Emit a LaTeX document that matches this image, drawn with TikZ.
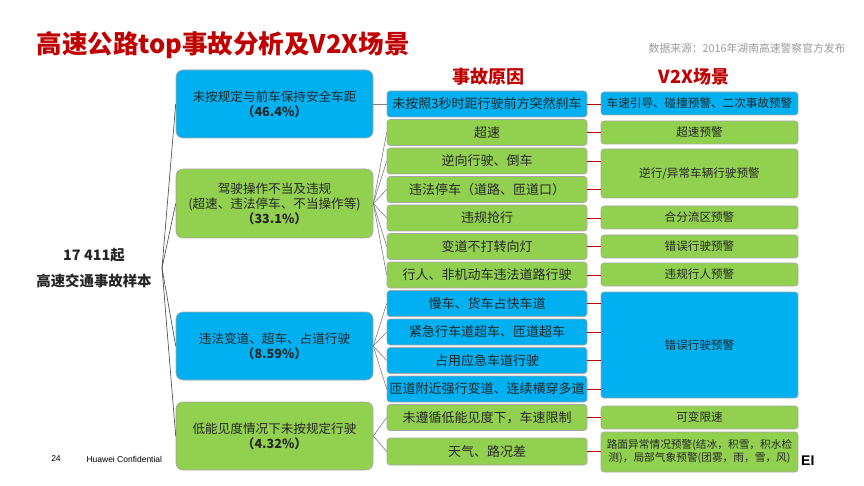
\documentclass[tikz,border=0pt]{standalone}
\usepackage{fontspec}
\setmainfont{Noto Sans CJK SC}
\setsansfont{Liberation Sans}
\usetikzlibrary{positioning}
\definecolor{ttl}{HTML}{C00000}
\definecolor{sky}{HTML}{00B0F0}
\definecolor{leaf}{HTML}{92D050}
\definecolor{ink}{HTML}{262626}
\definecolor{rim}{HTML}{A6A6A6}
\definecolor{soft}{HTML}{7F7F7F}
\definecolor{note}{HTML}{9A9A9A}

\begin{document}
\begin{tikzpicture}[x=1pt,y=-1pt, text=ink,
  lbox/.style={draw=rim, line width=0.6pt, rounded corners=7pt, minimum width=197pt,
               minimum height=68pt, align=center, inner sep=0pt,
               font=\fontsize{12.6}{15}\selectfont},
  cbox/.style={draw=rim, line width=0.6pt, rounded corners=3pt, minimum width=200pt,
               minimum height=26pt, inner sep=0pt, font=\fontsize{13}{15}\selectfont},
  vbox/.style={draw=rim, line width=0.6pt, rounded corners=3pt, minimum width=197pt,
               minimum height=23pt, align=center, inner sep=0pt,
               font=\fontsize{11.6}{14}\selectfont},
  trunk/.style={draw=black!75, line width=0.6pt},
  twig/.style={draw=soft, line width=0.6pt},
  link/.style={draw=ttl, line width=0.8pt},
  head/.style={text=ttl, font=\fontsize{18}{20}\selectfont\bfseries}]

\path[use as bounding box] (0,0) rectangle (864,486);

% ------------------------------------------------------------------ header
\node[anchor=west, text=ttl, font=\fontsize{25.5}{28}\selectfont\bfseries] (title) at (33,45)
  {高速公路top事故分析及V2X场景};
\node[anchor=east, text=note, font=\fontsize{10.8}{12}\selectfont] (src) at (849,48)
  {数据来源：2016年湖南高速警察官方发布};
\node[head] (hcause) at (488,77) {事故原因};
\node[head] (hv2x) at (694,77) {V2X场景};

% ------------------------------------------------------------------ root
\node[align=center, font=\fontsize{14.4}{26}\selectfont\bfseries] (root) at (94,268)
  {17 411起\\高速交通事故样本};
\coordinate (hub) at (162,268);

% ------------------------------------------------------------------ causes, level 1
\node[lbox, fill=sky] (l1) at (274.5,104) {未按规定与前车保持安全车距\\\textbf{（46.4\%）}};
\node[lbox, fill=leaf, minimum height=69pt] (l2) at (274.5,203.5)
  {驾驶操作不当及违规\\(超速、违法停车、不当操作等)\\\textbf{（33.1\%）}};
\node[lbox, fill=sky] (l3) at (274.5,346) {违法变道、超车、占道行驶\\\textbf{（8.59\%）}};
\node[lbox, fill=leaf] (l4) at (274.5,436) {低能见度情况下未按规定行驶\\\textbf{（4.32\%）}};

% ------------------------------------------------------------------ causes, level 2
\node[cbox, fill=sky]  (c1)  at (487,104)   {未按照3秒时距行驶前方突然刹车};
\node[cbox, fill=leaf] (c2)  at (487,132.5) {超速};
\node[cbox, fill=leaf] (c3)  at (487,161)   {逆向行驶、倒车};
\node[cbox, fill=leaf] (c4)  at (487,189.5) {违法停车（道路、匝道口）};
\node[cbox, fill=leaf] (c5)  at (487,218)   {违规抢行};
\node[cbox, fill=leaf] (c6)  at (487,246.5) {变道不打转向灯};
\node[cbox, fill=leaf] (c7)  at (487,275)   {行人、非机动车违法道路行驶};
\node[cbox, fill=sky]  (c8)  at (487,303.5) {慢车、货车占快车道};
\node[cbox, fill=sky]  (c9)  at (487,332)   {紧急行车道超车、匝道超车};
\node[cbox, fill=sky]  (c10) at (487,360.5) {占用应急车道行驶};
\node[cbox, fill=sky]  (c11) at (487,389)   {匝道附近强行变道、连续横穿多道};
\node[cbox, fill=leaf] (c12) at (487,417.5) {未遵循低能见度下，车速限制};
\node[cbox, fill=leaf, minimum height=27pt] (c13) at (487,451.5) {天气、路况差};

% ------------------------------------------------------------------ V2X scenes
\node[vbox, fill=sky]  (v1) at (699.5,103.5) {车速引导、碰撞预警、二次事故预警};
\node[vbox, fill=leaf] (v2) at (699.5,132.5) {超速预警};
\node[vbox, fill=leaf, minimum height=49pt] (v3) at (699.5,173.5) {逆行/异常车辆行驶预警};
\node[vbox, fill=leaf] (v4) at (699.5,217.5) {合分流区预警};
\node[vbox, fill=leaf] (v5) at (699.5,246.5) {错误行驶预警};
\node[vbox, fill=leaf] (v6) at (699.5,274.5) {违规行人预警};
\node[vbox, fill=sky, minimum height=106pt] (v7) at (699.5,345) {错误行驶预警};
\node[vbox, fill=leaf] (v8) at (699.5,417.5) {可变限速};
\node[vbox, fill=leaf, minimum height=40pt, font=\fontsize{10.7}{13}\selectfont] (v9)
  at (699.5,452) {路面异常情况预警(结冰，积雪，积水检\\测)，局部气象预警(团雾，雨，雪，风)};

% ------------------------------------------------------------------ connectors
\foreach \l in {l1,l2,l3,l4} {\draw[trunk] (hub) -- (\l.west);}
\draw[twig] (l1.east) -- (c1.west);
\foreach \c in {c2,c3,c4,c5,c6,c7} {\draw[twig] (l2.east) -- (\c.west);}
\foreach \c in {c8,c9,c10,c11} {\draw[twig] (l3.east) -- (\c.west);}
\foreach \c in {c12,c13} {\draw[twig] (l4.east) -- (\c.west);}
\foreach \c/\v in {c1/v1,c2/v2,c3/v3,c4/v3,c5/v4,c6/v5,c7/v6,c8/v7,c9/v7,c10/v7,c11/v7,c12/v8,c13/v9}
  {\draw[link] (\c.east) -- (\c.east -| \v.west);}

% ------------------------------------------------------------------ footer
\node[font=\sffamily\fontsize{8.5}{10}\selectfont, text=black] (page) at (56,459) {24};
\node[anchor=west, font=\sffamily\fontsize{8.5}{10}\selectfont, text=black] (conf) at (83,459)
  {Huawei Confidential};
\node[anchor=west, font=\sffamily\fontsize{14}{16}\selectfont\bfseries, text=black, inner sep=0pt]
  (logo) at (801,461) {EI};
\end{tikzpicture}
\end{document}
